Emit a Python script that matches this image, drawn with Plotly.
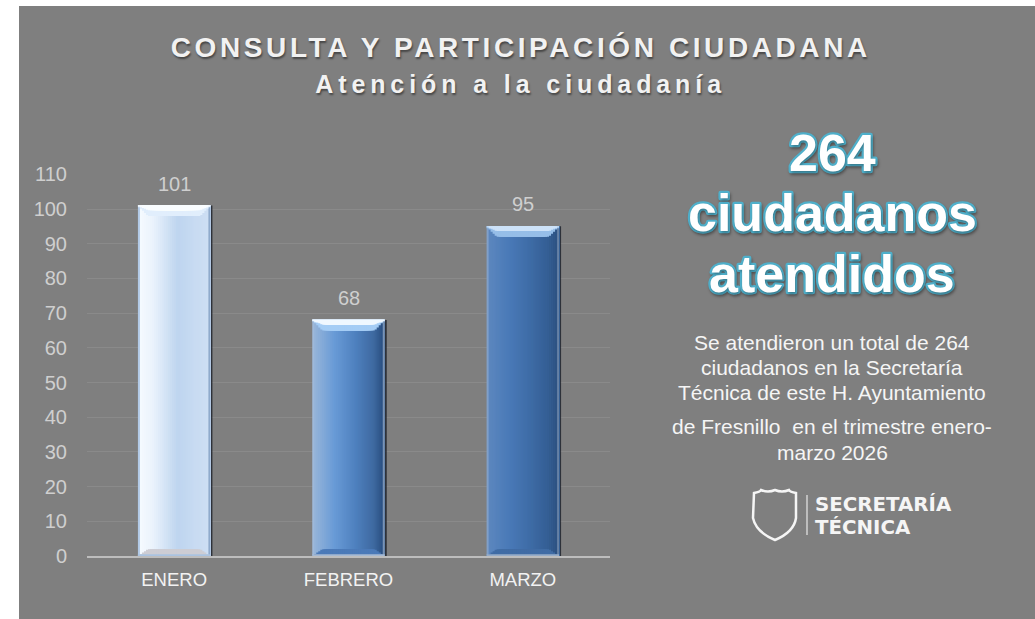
import plotly.graph_objects as go

# ---- data ----
meses = ["ENERO", "FEBRERO", "MARZO"]
atendidos = [101, 68, 95]
y_ticks = [0, 10, 20, 30, 40, 50, 60, 70, 80, 90, 100, 110]

titulo_1 = "CONSULTA Y PARTICIPACIÓN CIUDADANA"
titulo_2 = "Atención a la ciudadanía"
grandes = ["264", "ciudadanos", "atendidos"]
parrafo = ["Se atendieron un total de 264",
           "ciudadanos en la Secretaría",
           "Técnica de este H. Ayuntamiento",
           "de Fresnillo  en el trimestre enero-",
           "marzo 2026"]
logo_1 = "SECRETARÍA"
logo_2 = "TÉCNICA"

# ---- style ----
W, H = 1035, 619
BG = "#7f7f7f"
px = lambda v: v / W
py = lambda v: 1 - v / H
PLOT_L, PLOT_R, PLOT_T, PLOT_B = 87, 610, 174.3, 556
BAR_PX = 72.5
CAT_PX = (PLOT_R - PLOT_L) / 3
BAR_W = BAR_PX / CAT_PX
N = 36
BEVEL = 10.5  # px

# left-to-right colour stops per bar (position 0..1, rgb)
stops = [
    [(0, (120, 160, 210)), (.03, (245, 250, 255)), (.2, (235, 243, 252)), (.55, (190, 213, 239)),
     (.8, (200, 219, 242)), (.97, (205, 222, 243)), (1, (90, 125, 170))],
    [(0, (165, 190, 220)), (.03, (150, 180, 216)), (.3, (105, 155, 215)), (.6, (78, 128, 190)),
     (.85, (62, 105, 160)), (.97, (42, 80, 130)), (1, (190, 205, 225))],
    [(0, (160, 182, 210)), (.03, (92, 135, 190)), (.3, (74, 122, 184)), (.6, (62, 108, 166)),
     (.85, (52, 94, 148)), (.97, (45, 82, 130)), (1, (150, 170, 195))],
]
top_outer = [(250, 253, 255), (240, 248, 255), (205, 226, 248)]
top_inner = [(225, 238, 252), (165, 205, 245), (150, 190, 232)]
bot_col = [(205, 205, 212), (75, 122, 184), (64, 108, 165)]
bot_edge = [(170, 195, 225), (165, 185, 210), (150, 172, 200)]


def lerp(st, t):
    for (a, ca), (b, cb) in zip(st, st[1:]):
        if t <= b:
            f = (t - a) / (b - a)
            return tuple(round(x + (y - x) * f) for x, y in zip(ca, cb))
    return st[-1][1]


rgb = lambda c: "rgb(%d,%d,%d)" % tuple(c)
vpx = (PLOT_B - PLOT_T) / 110  # px per unit, for bevel height only
sw = BAR_W / N

fig = go.Figure()
base_kw = dict(x=meses, hoverinfo="skip", showlegend=False)

# right-hand drop shadow
fig.add_bar(y=atendidos, width=2 / CAT_PX, offset=BAR_W / 2,
            marker=dict(color="rgba(25,30,40,0.8)", line_width=0), **base_kw)

# body: each slice runs to the right edge, the next paints over it (no seams)
for k in range(N):
    t = (k + .5) / N
    fig.add_bar(y=atendidos, width=BAR_W - k * sw, offset=-BAR_W / 2 + k * sw,
                marker=dict(color=[rgb(lerp(s, t)) for s in stops], line_width=0), **base_kw)

# bevels: nested spans, outermost first, narrowing as they get taller
for layer, colors, frac, at_top in [("bot", bot_col, .65, False), ("in", top_inner, 1, True), ("out", top_outer, .45, True)]:
    for k in range(N // 2):
        d = (k + .5) * BAR_PX / N
        h = min(d * 1.05, BEVEL) / vpx * frac
        width = BAR_W - 2 * k * sw
        base = [v - h for v in atendidos] if at_top else [0] * 3
        fig.add_bar(y=[h] * 3, base=base, width=width, offset=-width / 2,
                    marker=dict(color=[rgb(c) for c in colors], line_width=0), **base_kw)
fig.add_bar(y=[.45] * 3, base=[0] * 3, width=BAR_W, offset=-BAR_W / 2,
            marker=dict(color=[rgb(c) for c in bot_edge], line_width=0), **base_kw)

ann = []
for m, v in zip(meses, atendidos):
    ann.append(dict(x=m, y=v, xref="x", yref="y", text=str(v), showarrow=False, yanchor="middle", yshift=22,
                    font=dict(family="Liberation Sans", size=20, color="#cfcfcf")))


def txt(s, x, y, size, color="white", bold=False, family="Liberation Sans", shadow=None, anchor="center"):
    f = dict(family=family, size=size, color=color, weight=700 if bold else 400)
    if shadow:
        f["shadow"] = shadow
    ann.append(dict(text=s, x=px(x), y=py(y), xref="paper", yref="paper", showarrow=False,
                    xanchor=anchor, yanchor="middle", font=f))


title_shadow = "1px 2px 2px rgba(0,0,0,.45)"
txt(titulo_1, 521, 48, 28, "#f2f2f2", True, shadow=title_shadow)
txt(titulo_2, 521, 84, 25, "#f2f2f2", True, shadow=title_shadow)

for s, y in zip(grandes, [153, 213, 274]):
    txt(s, 832, y, 52, "white", True, shadow="1px 2px 3px rgba(0,0,0,.3)")
for s, y in zip(parrafo, [342, 367, 392, 426, 452]):
    txt(s, 832, y, 21, "#f5f5f5")

txt(logo_1, 813, 504, 19.8, "#f5f5f5", True, family="DejaVu Sans", anchor="left")
txt(logo_2, 813, 527, 19.8, "#f5f5f5", True, family="DejaVu Sans", anchor="left")


def P(x, y):
    return f"{px(x):.5f} {py(y):.5f}"


shield = (f"M {P(754, 493)} Q {P(760, 492)} {P(761, 490)} Q {P(768, 493)} {P(775, 490)} "
          f"Q {P(782, 493)} {P(789, 490)} Q {P(790, 492)} {P(796, 493)} "
          f"L {P(796, 518)} Q {P(794, 532)} {P(775, 540)} Q {P(756, 532)} {P(753, 518)} Z")

fig.update_layout(
    width=W, height=H, margin=dict(l=0, r=0, t=0, b=0), paper_bgcolor="white", plot_bgcolor="rgba(0,0,0,0)",
    barmode="overlay", showlegend=False, annotations=ann,
    shapes=[
        dict(type="rect", xref="paper", yref="paper", x0=px(19), x1=1, y0=0, y1=py(6),
             fillcolor=BG, line_width=0, layer="below"),
        dict(type="path", xref="paper", yref="paper", path=shield, line=dict(color="#f5f5f5", width=2.5)),
        dict(type="line", xref="paper", yref="paper", x0=px(807), x1=px(807), y0=py(495), y1=py(535),
             line=dict(color="#e8e8e8", width=1.2)),
    ],
    xaxis=dict(domain=[px(PLOT_L), px(PLOT_R)], automargin=False, type="category", showgrid=False,
               showline=True, linecolor="#bdbdbd", linewidth=2, ticks="", ticklabelstandoff=6,
               tickfont=dict(family="Liberation Sans", size=18.5, color="#f2f2f2"), fixedrange=True,
               range=[-.5, 2.5], zeroline=False),
    yaxis=dict(domain=[py(PLOT_B), py(PLOT_T)], automargin=False, range=[0, 110], tickvals=y_ticks,
               showgrid=True, gridcolor="#8a8a8a", gridwidth=1, zeroline=False, showline=False, ticks="",
               ticklabelstandoff=19, tickfont=dict(family="Liberation Sans", size=20, color="#cfcfcf"),
               fixedrange=True),
)

post = """
document.body.style.margin='0';document.body.style.overflow='hidden';
var big=['264','ciudadanos','atendidos'];
document.querySelectorAll('.annotation-text').forEach(function(t){
  var s=t.textContent;
  if(s.indexOf('CONSULTA')===0){t.style.letterSpacing='3.6px';}
  if(s.indexOf('Atención')===0){t.style.letterSpacing='4.9px';}
  if(big.indexOf(s)>=0 && parseFloat(t.style.fontSize)>40){
    t.style.stroke='#4fb0cb';t.style.strokeWidth='4.4px';t.style.strokeLinejoin='round';t.style.paintOrder='stroke';
  }
});
"""
fig.write_html("out.html", post_script=post, config=dict(displayModeBar=False))
